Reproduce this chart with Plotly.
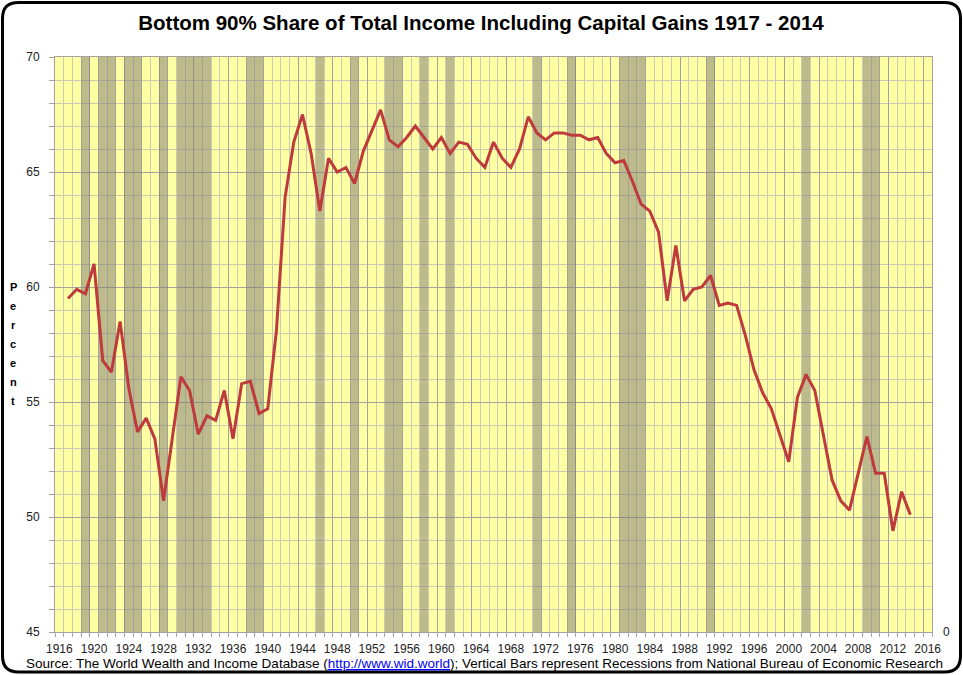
import plotly.graph_objects as go

# ---------------- data ----------------
years = list(range(1917, 2015))
share = [59.5, 59.9, 59.7, 61.0, 56.8, 56.3, 58.5, 55.6, 53.7, 54.3,   # 1917-1926
         53.4, 50.7, 53.4, 56.1, 55.5, 53.6, 54.4, 54.2, 55.5, 53.4,   # 1927-1936
         55.8, 55.9, 54.5, 54.7, 58.1, 63.9, 66.3, 67.5, 65.8, 63.3,   # 1937-1946
         65.6, 65.0, 65.2, 64.5, 65.9, 66.8, 67.7, 66.4, 66.1, 66.5,   # 1947-1956
         67.0, 66.5, 66.0, 66.5, 65.8, 66.3, 66.2, 65.6, 65.2, 66.3,   # 1957-1966
         65.6, 65.2, 66.0, 67.4, 66.7, 66.4, 66.7, 66.7, 66.6, 66.6,   # 1967-1976
         66.4, 66.5, 65.8, 65.4, 65.5, 64.6, 63.6, 63.3, 62.4, 59.4,   # 1977-1986
         61.8, 59.4, 59.9, 60.0, 60.5, 59.2, 59.3, 59.2, 57.9, 56.4,   # 1987-1996
         55.4, 54.7, 53.6, 52.4, 55.2, 56.2, 55.5, 53.6, 51.6, 50.7,   # 1997-2006
         50.3, 51.9, 53.5, 51.9, 51.9, 49.4, 51.1, 50.1]               # 2007-2014
recession_years = [1919, 1921, 1922, 1924, 1925, 1928, 1930, 1931, 1932, 1933,
                   1938, 1939, 1946, 1950, 1954, 1955, 1958, 1961, 1971, 1975,
                   1981, 1982, 1983, 1991, 2002, 2009, 2010]
recession_flag = [1] * len(recession_years)
x_tick_years = list(range(1916, 2017, 4))
y_ticks = [45, 50, 55, 60, 65, 70]

title_text = "Bottom 90% Share of Total Income Including Capital Gains 1917 - 2014"
source_text = ('Source: The World Wealth and Income Database '
               '(<span style="color:#0000FF;text-decoration:underline">http://www.wid.world</span>); '
               'Vertical Bars represent Recessions from National Bureau of Economic Research')
ylabel_word = "Percent"

# ---------------- geometry helpers ----------------
W, H = 963, 675
L, R, T, B = 55, 932, 57, 632
def px2x(px):
    return (px - L) / (R - L)
def px2y(py):
    return (B - py) / (B - T)

FONT = "Liberation Sans"
YELLOW = "#FFFFA4"
BAR = "rgba(128,124,118,0.52)"
MAJOR = "#A3A3A0"
MINOR = "#CACAB4"

fig = go.Figure()
fig.add_trace(go.Bar(x=recession_years, y=recession_flag, width=1,
                     marker=dict(color=BAR, line=dict(width=0)),
                     xaxis="x", yaxis="y", hoverinfo="skip", showlegend=False))
fig.add_trace(go.Scatter(x=[years[0]], y=[share[0]], xaxis="x2", yaxis="y2",
                         mode="markers", marker=dict(opacity=0),
                         hoverinfo="skip", showlegend=False))
fig.add_trace(go.Scatter(x=years, y=share, xaxis="x", yaxis="y2", mode="lines",
                         line=dict(color="#BE3A3C", width=3), showlegend=False))

xrange = [1915.5, 2016.5]
fig.update_layout(
    width=W, height=H,
    margin=dict(l=L, r=W - R, t=T, b=H - B, autoexpand=False),
    paper_bgcolor="white", plot_bgcolor=YELLOW,
    font=dict(family=FONT, size=12, color="#333333"),
    title=dict(text="<b>" + title_text + "</b>", x=481 / W, xanchor="center",
               y=1 - 23 / H, yanchor="middle", font=dict(family=FONT, size=20.5, color="black")),
    xaxis=dict(range=xrange, tickmode="array", tickvals=x_tick_years,
               showgrid=False, zeroline=False, ticks="", showline=True,
               linecolor=MAJOR, linewidth=1, mirror=True, ticklabelstandoff=6,
               tickfont=dict(size=12, color="#222222"),
               minor=dict(tickmode="linear", tick0=1915.5, dtick=1, showgrid=True,
                          gridcolor=MINOR, gridwidth=1, ticks="outside",
                          ticklen=4, tickcolor=MAJOR)),
    xaxis2=dict(range=xrange, overlaying="x", tickmode="linear", tick0=1915.5, dtick=4,
                showgrid=True, gridcolor=MAJOR, gridwidth=1, zeroline=False,
                showticklabels=False, ticks="", showline=False),
    yaxis=dict(range=[0, 1], side="right", tickmode="array", tickvals=[0], ticktext=["0"],
               showgrid=False, zeroline=False, ticks="", showline=False,
               ticklabelstandoff=10,
               tickfont=dict(size=12, color="#222222")),
    yaxis2=dict(range=[45, 70], overlaying="y", side="left", tickmode="array",
                tickvals=y_ticks, showgrid=True, gridcolor=MAJOR, gridwidth=1,
                zeroline=False, showline=True, linecolor=MAJOR, mirror=True,
                ticks="outside", ticklen=5, tickcolor=MAJOR, ticklabelstandoff=7,
                tickfont=dict(size=12, color="#222222"),
                minor=dict(tickmode="linear", tick0=45, dtick=1, showgrid=True,
                           gridcolor=MINOR, ticks="outside", ticklen=5, tickcolor=MAJOR)),
    bargap=0,
)

# source line
fig.add_annotation(text=source_text, xref="paper", yref="paper",
                   x=px2x(484), y=px2y(663), xanchor="center", yanchor="middle",
                   showarrow=False, font=dict(family=FONT, size=13.5, color="black"))

# vertical "Percent" label
for i, ch in enumerate(ylabel_word):
    fig.add_annotation(text="<b>" + ch + "</b>", xref="paper", yref="paper",
                       x=px2x(13), y=px2y(287 + 19 * i), xanchor="center", yanchor="middle",
                       showarrow=False, font=dict(family=FONT, size=11, color="black"))

# rounded outer frame
x0, y0, x1, y1, r = 2.5, 2.5, 960.5, 672, 16
def P(px, py):
    return f"{px2x(px):.5f},{px2y(py):.5f}"
path = (f"M {P(x0 + r, y0)} L {P(x1 - r, y0)} Q {P(x1, y0)} {P(x1, y0 + r)} "
        f"L {P(x1, y1 - r)} Q {P(x1, y1)} {P(x1 - r, y1)} "
        f"L {P(x0 + r, y1)} Q {P(x0, y1)} {P(x0, y1 - r)} "
        f"L {P(x0, y0 + r)} Q {P(x0, y0)} {P(x0 + r, y0)} Z")
fig.add_shape(type="path", path=path, xref="paper", yref="paper",
              line=dict(color="black", width=3), layer="above")

fig.write_html("out.html", config={"displayModeBar": False},
               post_script="document.body.style.margin='0';document.body.style.overflow='hidden';")
